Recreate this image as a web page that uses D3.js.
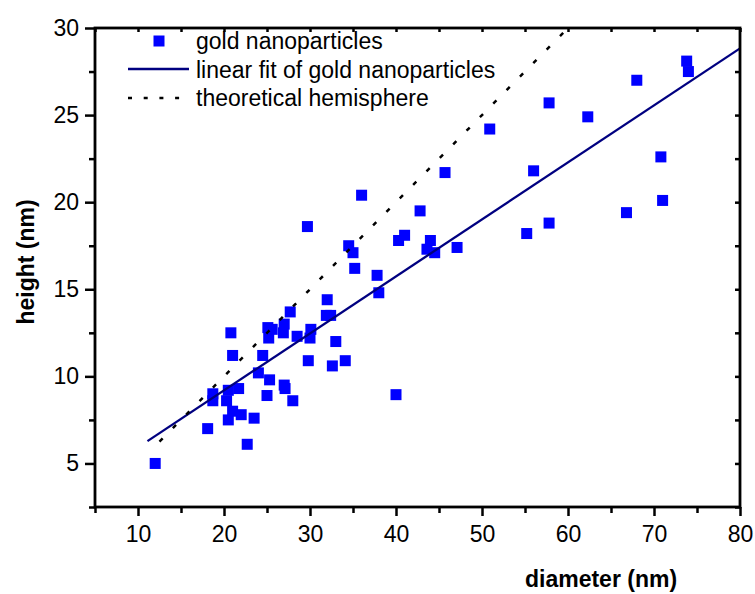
<!DOCTYPE html>
<html>
<head>
<meta charset="utf-8">
<script src="https://cdn.jsdelivr.net/npm/d3@7"></script>
<style>
  html, body { margin: 0; padding: 0; background: #fff; }
  svg { display: block; font-family: "Liberation Sans", Arial, sans-serif; }
</style>
</head>
<body>
<svg id="chart" width="755" height="594"></svg>
<script>
// ---- data ----
const diameter = [12.0, 18.1, 18.7, 18.7, 20.5, 20.3, 21.7, 21.0, 22.0, 20.5,
  23.5, 22.7, 25.0, 24.0, 25.3, 24.5, 20.8, 21.0, 27.0, 27.1,
  28.0, 25.1, 25.6, 25.2, 27.0, 26.9, 27.7, 28.5, 30.1, 30.0,
  29.8, 29.7, 32.0, 31.9, 32.4, 33.0, 32.6, 34.1, 36.0, 35.0,
  34.5, 35.2, 37.8, 38.0, 40.0, 41.0, 40.3, 42.8, 44.0, 43.6,
  44.5, 47.1, 45.7, 50.9, 56.0, 55.2, 57.8, 57.8, 62.3, 68.0,
  66.8, 70.8, 71.0, 73.8, 74.0];
const height = [5.0, 7.0, 9.0, 8.6, 9.2, 8.6, 9.3, 8.0, 7.8, 7.5,
  7.6, 6.1, 8.9, 10.2, 9.8, 11.2, 12.5, 11.2, 9.5, 9.3,
  8.6, 12.8, 12.7, 12.2, 13.0, 12.5, 13.7, 12.3, 12.7, 12.2,
  10.9, 18.6, 14.4, 13.5, 13.5, 12.0, 10.6, 10.9, 20.4, 17.1,
  17.5, 16.2, 15.8, 14.8, 8.95, 18.1, 17.8, 19.5, 17.8, 17.3,
  17.1, 17.4, 21.7, 24.2, 21.8, 18.2, 18.8, 25.7, 24.9, 27.0,
  19.4, 22.6, 20.1, 28.1, 27.5];
const fitX = [11.1, 80];
const fitY = [6.28, 28.83];
const hemiX = [12.5, 60];
const hemiY = [6.25, 30];
const xTicks = [10, 20, 30, 40, 50, 60, 70, 80];
const xMinorTicks = [5, 15, 25, 35, 45, 55, 65, 75];
const yTicks = [5, 10, 15, 20, 25, 30];
const yMinorTicks = [2.5, 7.5, 12.5, 17.5, 22.5, 27.5];
const legendLabels = ["gold nanoparticles", "linear fit of gold nanoparticles", "theoretical hemisphere"];
const xTitle = "diameter (nm)";
const yTitle = "height (nm)";

// ---- layout ----
const L = 95, R = 740, T = 28, B = 507;
const svg = d3.select("#chart");
const x = d3.scaleLinear().domain([5, 80]).range([L, R]);
const y = d3.scaleLinear().domain([2.5, 30]).range([B, T]);
const FONT = 23;

// points
svg.append("g").selectAll("rect")
  .data(diameter.map((d, i) => [d, height[i]]))
  .join("rect")
  .attr("x", d => x(d[0]) - 5.5)
  .attr("y", d => y(d[1]) - 5.5)
  .attr("width", 11).attr("height", 11)
  .attr("fill", "#0000ff");

// fit line
const line = d3.line().x(d => x(d[0])).y(d => y(d[1]));
svg.append("path")
  .datum(fitX.map((d, i) => [d, fitY[i]]))
  .attr("d", line)
  .attr("fill", "none").attr("stroke", "#000080").attr("stroke-width", 2.3);

// theoretical hemisphere
svg.append("path")
  .datum(hemiX.map((d, i) => [d, hemiY[i]]))
  .attr("d", line)
  .attr("fill", "none").attr("stroke", "#000").attr("stroke-width", 2.5)
  .attr("stroke-dasharray", "4.5,14.5");

// axes
function styleAxis(g) {
  g.select(".domain").remove();
  g.selectAll(".tick line").attr("stroke", "#000").attr("stroke-width", 2.5);
  g.selectAll("text").attr("font-size", FONT).attr("fill", "#000")
    .attr("font-family", '"Liberation Sans", Arial, sans-serif');
}
// bottom major
svg.append("g").attr("transform", `translate(0,${B})`)
  .call(d3.axisBottom(x).tickValues(xTicks).tickSize(9).tickPadding(10).tickFormat(d3.format("d")))
  .call(styleAxis);
// bottom minor
svg.append("g").attr("transform", `translate(0,${B})`)
  .call(d3.axisBottom(x).tickValues(xMinorTicks).tickSize(6).tickFormat(""))
  .call(styleAxis);
// left major
svg.append("g").attr("transform", `translate(${L},0)`)
  .call(d3.axisLeft(y).tickValues(yTicks).tickSize(10).tickPadding(6).tickFormat(d3.format("d")))
  .call(styleAxis);
// left minor
svg.append("g").attr("transform", `translate(${L},0)`)
  .call(d3.axisLeft(y).tickValues(yMinorTicks).tickSize(6).tickFormat(""))
  .call(styleAxis);
// top ticks (inward)
svg.append("g").attr("transform", `translate(0,${T})`)
  .call(d3.axisTop(x).tickValues(xTicks.concat(xMinorTicks)).tickSize(-4).tickFormat(""))
  .call(styleAxis);
// right ticks (inward)
svg.append("g").attr("transform", `translate(${R},0)`)
  .call(d3.axisRight(y).tickValues(yTicks.concat(yMinorTicks)).tickSize(-5).tickFormat(""))
  .call(styleAxis);

// frame
svg.append("rect").attr("x", L).attr("y", T).attr("width", R - L).attr("height", B - T)
  .attr("fill", "none").attr("stroke", "#000").attr("stroke-width", 2.8);

// axis titles
svg.append("text").attr("x", 601).attr("y", 587).attr("text-anchor", "middle")
  .attr("font-size", FONT).attr("font-weight", "bold").text(xTitle);
svg.append("text").attr("transform", "translate(33.5,262) rotate(-90)").attr("text-anchor", "middle")
  .attr("font-size", FONT).attr("font-weight", "bold").text(yTitle);

// legend
const lg = svg.append("g");
lg.append("rect").attr("x", 153.5).attr("y", 35.5).attr("width", 11).attr("height", 11).attr("fill", "#0000ff");
lg.append("line").attr("x1", 128).attr("x2", 189).attr("y1", 69).attr("y2", 69)
  .attr("stroke", "#000080").attr("stroke-width", 2.3);
lg.append("line").attr("x1", 128).attr("x2", 189).attr("y1", 98).attr("y2", 98)
  .attr("stroke", "#000").attr("stroke-width", 2.5).attr("stroke-dasharray", "4,11.7");
const legendY = [49, 77.5, 106];
lg.selectAll("text.lab").data(legendLabels).join("text")
  .attr("class", "lab")
  .attr("x", 196).attr("y", (d, i) => legendY[i])
  .attr("font-size", FONT).attr("fill", "#000").text(d => d);
</script>
</body>
</html>
